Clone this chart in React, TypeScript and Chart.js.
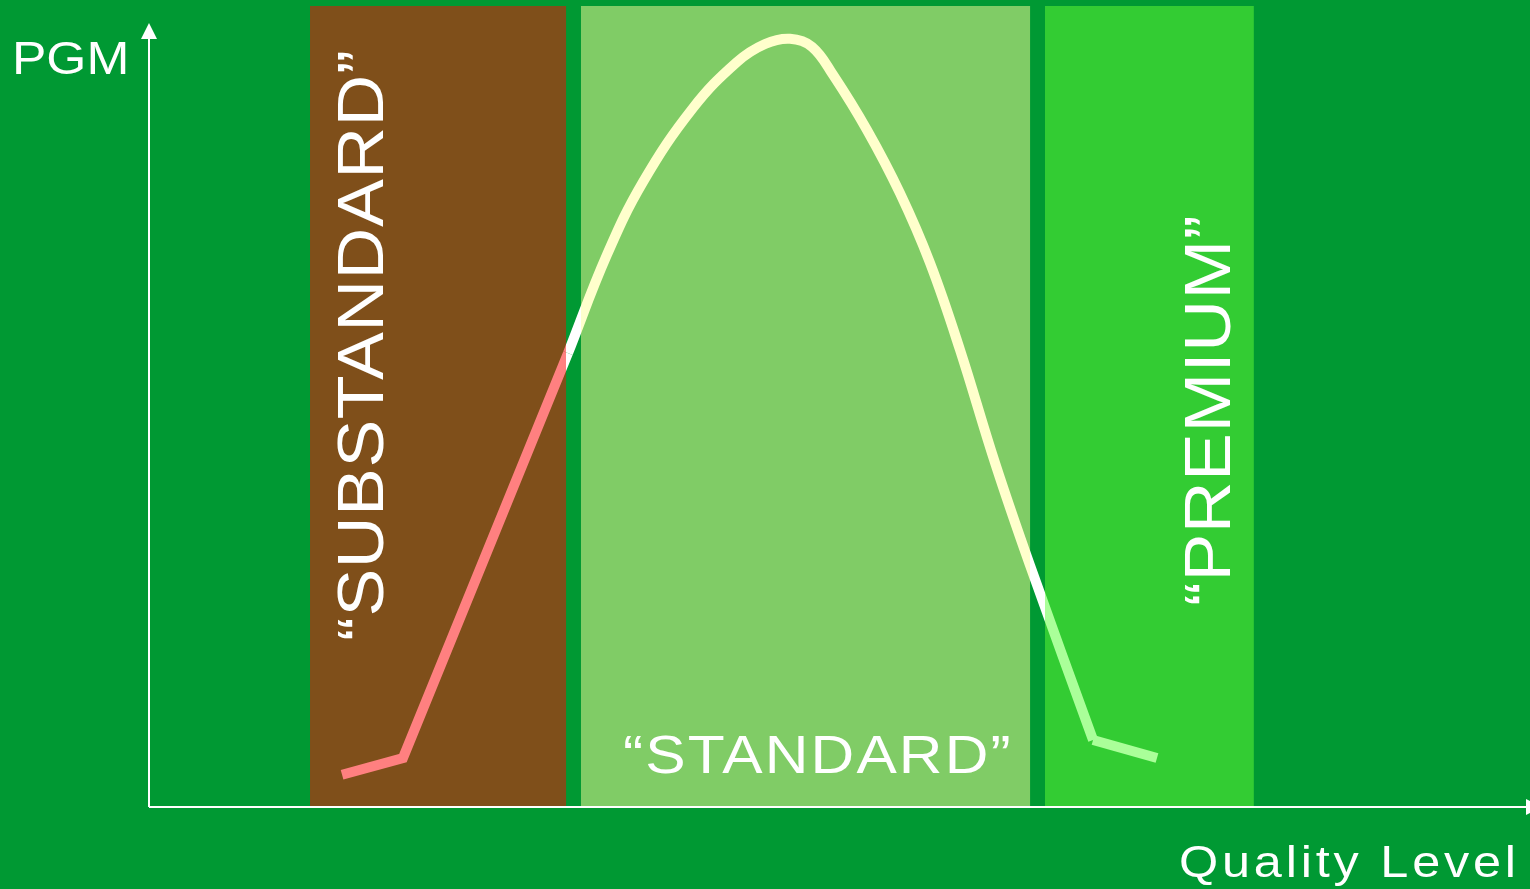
import React, { useEffect, useRef } from "react";
import { Chart, registerables } from "chart.js";

Chart.register(...registerables);

// Quality bands
const BAND_NAMES = ["“SUBSTANDARD”", "“STANDARD”", "“PREMIUM”"];
const BAND_START = [11.66, 31.28, 64.88];
const BAND_END = [30.2, 63.8, 80.0];
const BAND_TOP = [100, 100, 100];
const BAND_COLORS = ["#7F4F1A", "#80CC66", "#33CC33"];
const LINE_COLORS = ["#FF8080", "#FFFFCC", "#AAFF99"];
const GAP_COLOR = "#FFFFFF";

// Curve (PGM vs quality level)
const RISE_X = [13.98, 18.39, 30.34];
const RISE_Y = [3.9, 6.0, 56.6];
const BELL_X = [30.34, 33.16, 35.77, 39.39, 42.58, 44.61, 46.42, 48.01, 49.53, 51.99, 54.38, 56.55, 58.73, 61.26, 63.79, 68.36];
const BELL_Y = [56.6, 68.9, 78.0, 87.25, 93.0, 95.25, 95.9, 94.9, 91.4, 84.5, 76.6, 67.9, 57.0, 42.9, 30.1, 8.25];
const TAIL_X = [68.36, 72.99];
const TAIL_Y = [8.25, 6.0];

const AXIS_Y_TITLE = "PGM";
const AXIS_X_TITLE = "Quality Level";

const BG = "#009933";
const FONT = "'Liberation Sans', Arial, sans-serif";

function lineGradient(chart: any) {
  const { ctx, chartArea } = chart;
  if (!chartArea) return LINE_COLORS[1];
  const xs = chart.scales.x;
  const L = chartArea.left;
  const R = chartArea.right;
  const g = ctx.createLinearGradient(L, 0, R, 0);
  const f = (v: number) => Math.min(1, Math.max(0, (xs.getPixelForValue(v) - L) / (R - L)));
  g.addColorStop(0, LINE_COLORS[0]);
  for (let i = 0; i < BAND_START.length; i++) {
    if (i > 0) {
      g.addColorStop(f(BAND_START[i]), GAP_COLOR);
      g.addColorStop(f(BAND_START[i]), LINE_COLORS[i]);
    }
    if (i < BAND_START.length - 1) {
      g.addColorStop(f(BAND_END[i]), LINE_COLORS[i]);
      g.addColorStop(f(BAND_END[i]), GAP_COLOR);
    }
  }
  g.addColorStop(1, LINE_COLORS[LINE_COLORS.length - 1]);
  return g;
}

const toPoints = (xs: number[], ys: number[]) => xs.map((x, i) => ({ x, y: ys[i] }));

function drawText(ctx: any, text: string, x: number, y: number, size: number, spacing: number, rotate: boolean) {
  ctx.save();
  ctx.font = `${size}px ${FONT}`;
  ctx.letterSpacing = `${spacing}px`;
  ctx.translate(x, y);
  if (rotate) ctx.rotate(-Math.PI / 2);
  ctx.scale(1.12, 1);
  ctx.fillText(text, 0, 0);
  ctx.restore();
}

const decorPlugin = {
  id: "decor",
  beforeDraw(chart: any) {
    const { ctx, width, height } = chart;
    ctx.save();
    ctx.fillStyle = BG;
    ctx.fillRect(0, 0, width, height);
    ctx.restore();
  },
  beforeDatasetsDraw(chart: any) {
    const { ctx, scales } = chart;
    const xs = scales.x;
    const ys = scales.y;
    ctx.save();
    // bands
    for (let i = 0; i < BAND_START.length; i++) {
      const x0 = xs.getPixelForValue(BAND_START[i]);
      const x1 = xs.getPixelForValue(BAND_END[i]);
      const y0 = ys.getPixelForValue(BAND_TOP[i]);
      const y1 = ys.getPixelForValue(0);
      ctx.fillStyle = BAND_COLORS[i];
      ctx.fillRect(x0, y0, x1 - x0, y1 - y0);
    }
    // axes
    const ox = xs.getPixelForValue(0);
    const oy = ys.getPixelForValue(0) + 1;
    ctx.strokeStyle = "#FFFFFF";
    ctx.fillStyle = "#FFFFFF";
    ctx.lineWidth = 2;
    ctx.beginPath();
    ctx.moveTo(ox, oy);
    ctx.lineTo(ox, 38);
    ctx.moveTo(ox, oy);
    ctx.lineTo(1528, oy);
    ctx.stroke();
    ctx.beginPath();
    ctx.moveTo(ox, 23);
    ctx.lineTo(ox - 8, 39);
    ctx.lineTo(ox + 8, 39);
    ctx.closePath();
    ctx.fill();
    ctx.beginPath();
    ctx.moveTo(1542, oy);
    ctx.lineTo(1526, oy - 8);
    ctx.lineTo(1526, oy + 8);
    ctx.closePath();
    ctx.fill();

    // texts
    ctx.fillStyle = "#FFFFFF";
    ctx.textBaseline = "alphabetic";
    ctx.textAlign = "left";
    drawText(ctx, AXIS_Y_TITLE, 12, 74, 46, 0, false);
    drawText(ctx, AXIS_X_TITLE, 1179, 877, 45, 3.4, false);
    drawText(ctx, BAND_NAMES[1], 623, 773, 54, 1.9, false);
    drawText(ctx, BAND_NAMES[0], 383, 641, 64, 0.5, true);
    drawText(ctx, BAND_NAMES[2], 1230, 606, 64, 0.5, true);

    ctx.restore();
  },
};

export default function App() {
  const ref = useRef<HTMLCanvasElement | null>(null);
  useEffect(() => {
    if (!ref.current) return;
    const common = {
      borderColor: (c: any) => lineGradient(c.chart),
      borderWidth: 10,
      pointRadius: 0,
      borderCapStyle: "butt",
      borderJoinStyle: "miter",
      fill: false,
    };
    const chart = new Chart(ref.current, {
      type: "line",
      data: {
        datasets: [
          { ...common, data: toPoints(RISE_X, RISE_Y), tension: 0 } as any,
          { ...common, data: toPoints(BELL_X, BELL_Y), tension: 0.4 } as any,
          { ...common, data: toPoints(TAIL_X, TAIL_Y), tension: 0 } as any,
        ],
      },
      options: {
        animation: false,
        responsive: false,
        layout: { padding: { left: 149, top: 6, right: 0, bottom: 83 } },
        plugins: { legend: { display: false }, tooltip: { enabled: false } },
        events: [],
        scales: {
          x: { type: "linear", min: 0, max: 100, display: false },
          y: { type: "linear", min: 0, max: 100, display: false },
        },
      },
      plugins: [decorPlugin],
    });
    return () => chart.destroy();
  }, []);
  return (
    <div style={{ position: "absolute", left: 0, top: 0, width: 1530, height: 889 }}>
      <canvas ref={ref} width={1530} height={889} style={{ width: 1530, height: 889, display: "block" }} />
    </div>
  );
}
